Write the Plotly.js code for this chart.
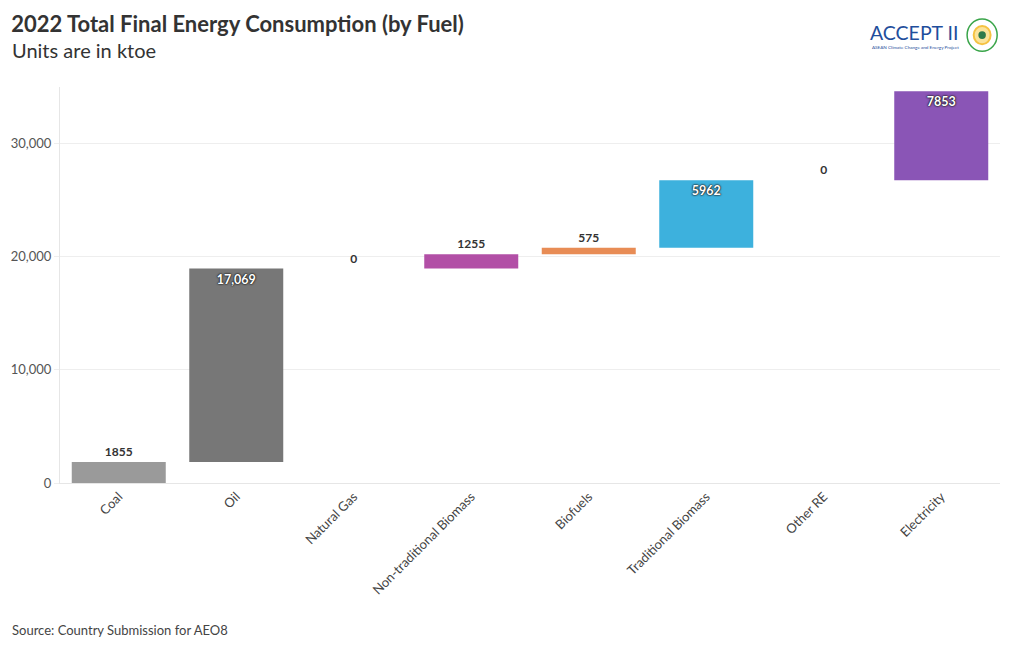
<!DOCTYPE html>
<html>
<head>
<meta charset="utf-8">
<script src="https://cdn.plot.ly/plotly-3.0.1.min.js"></script>
<style>html,body{margin:0;padding:0;background:#fff;}#chart{width:1020px;height:650px;}</style>
</head>
<body>
<div id="chart"></div>
<script>
const categories = ["Coal", "Oil", "Natural Gas", "Non-traditional Biomass", "Biofuels", "Traditional Biomass", "Other RE", "Electricity"];
const values = [1855, 17069, 0, 1255, 575, 5962, 0, 7853];
const labels = ["1855", "17,069", "0", "1255", "575", "5962", "0", "7853"];
const colors = ["#9a9a9a", "#777777", "#999999", "#b24fa6", "#e88c55", "#3db1dd", "#999999", "#8a55b6"];
const labelPositions = ["outside", "inside", "outside", "outside", "outside", "inside", "outside", "inside"];
const yTicks = [0, 10000, 20000, 30000];

const bases = [];
let run = 0;
for (const v of values) { bases.push(run); run += v; }

const FONT = "Lato, 'Noto Sans', sans-serif";

const trace = {
  type: "bar",
  x: categories,
  y: values,
  base: bases,
  marker: { color: colors },
  text: labels,
  textposition: labelPositions,
  insidetextanchor: "end",
  cliponaxis: false,
  textfont: { family: FONT, size: 12, weight: 700 },
  outsidetextfont: { family: FONT, size: 12, color: "#333333", weight: 700 },
  insidetextfont: { family: FONT, size: 12.5, color: "#ffffff", weight: 700, shadow: "0px 0px 2px #222, 0px 0px 2px #222, 0px 0px 1px #222" },
  constraintext: "none",
  hoverinfo: "x+y"
};

const layout = {
  width: 1020,
  height: 650,
  margin: { l: 60, r: 20, t: 87, b: 167 },
  paper_bgcolor: "#ffffff",
  plot_bgcolor: "#ffffff",
  font: { family: FONT, color: "#444444", size: 13 },
  showlegend: false,
  bargap: 0.2,
  title: {
    text: "<b>2022 Total Final Energy Consumption (by Fuel)</b>",
    x: 0.011, xanchor: "left", xref: "container",
    y: 0.962, yanchor: "middle", yref: "container",
    font: { family: FONT, size: 22, color: "#333333" }
  },
  xaxis: {
    type: "category",
    tickangle: -45,
    tickfont: { family: FONT, size: 13, color: "#444444" },
    showline: true, linecolor: "#e6e6e6", linewidth: 1,
    showgrid: false,
    ticks: ""
  },
  yaxis: {
    range: [0, 34950],
    tickvals: yTicks,
    tickformat: ",d",
    tickfont: { family: FONT, size: 13, color: "#555555" },
    showline: true, linecolor: "#e6e6e6", linewidth: 1,
    gridcolor: "#eeeeee",
    zeroline: false,
    ticks: "outside", tickcolor: "#eeeeee", ticklen: 5
  },
  annotations: [
    { text: "Units are in ktoe", xref: "paper", yref: "paper", x: -0.053, y: 1.093, xanchor: "left", yanchor: "middle", showarrow: false, font: { family: FONT, size: 20, color: "#333333" } },
    { text: "Source: Country Submission for AEO8", xref: "paper", yref: "paper", x: -0.053, y: -0.372, xanchor: "left", yanchor: "middle", showarrow: false, font: { family: FONT, size: 13, color: "#444444" } },
    { text: "ACCEPT II", xref: "paper", yref: "paper", x: 0.86, y: 1.138, xanchor: "left", yanchor: "middle", showarrow: false, font: { family: FONT, size: 19.5, color: "#1f4e9c" } },
    { text: "ASEAN Climate Change and Energy Project", xref: "paper", yref: "paper", x: 0.862, y: 1.1, xanchor: "left", yanchor: "middle", showarrow: false, font: { family: FONT, size: 4.6, color: "#1f4e9c" } }
  ],
  shapes: [
    { type: "circle", xref: "paper", yref: "paper", x0: 0.965, x1: 0.997, y0: 1.09, y1: 1.172, line: { color: "#3aa54a", width: 1.5 }, fillcolor: "rgba(0,0,0,0)" },
    { type: "circle", xref: "paper", yref: "paper", x0: 0.972, x1: 0.990, y0: 1.108, y1: 1.154, line: { color: "#f5c242", width: 2 }, fillcolor: "#fbe39a" },
    { type: "circle", xref: "paper", yref: "paper", x0: 0.977, x1: 0.985, y0: 1.121, y1: 1.141, line: { width: 0 }, fillcolor: "#2f7a4a" }
  ]
};

Plotly.newPlot("chart", [trace], layout, { displayModeBar: false, responsive: false });
</script>
</body>
</html>
